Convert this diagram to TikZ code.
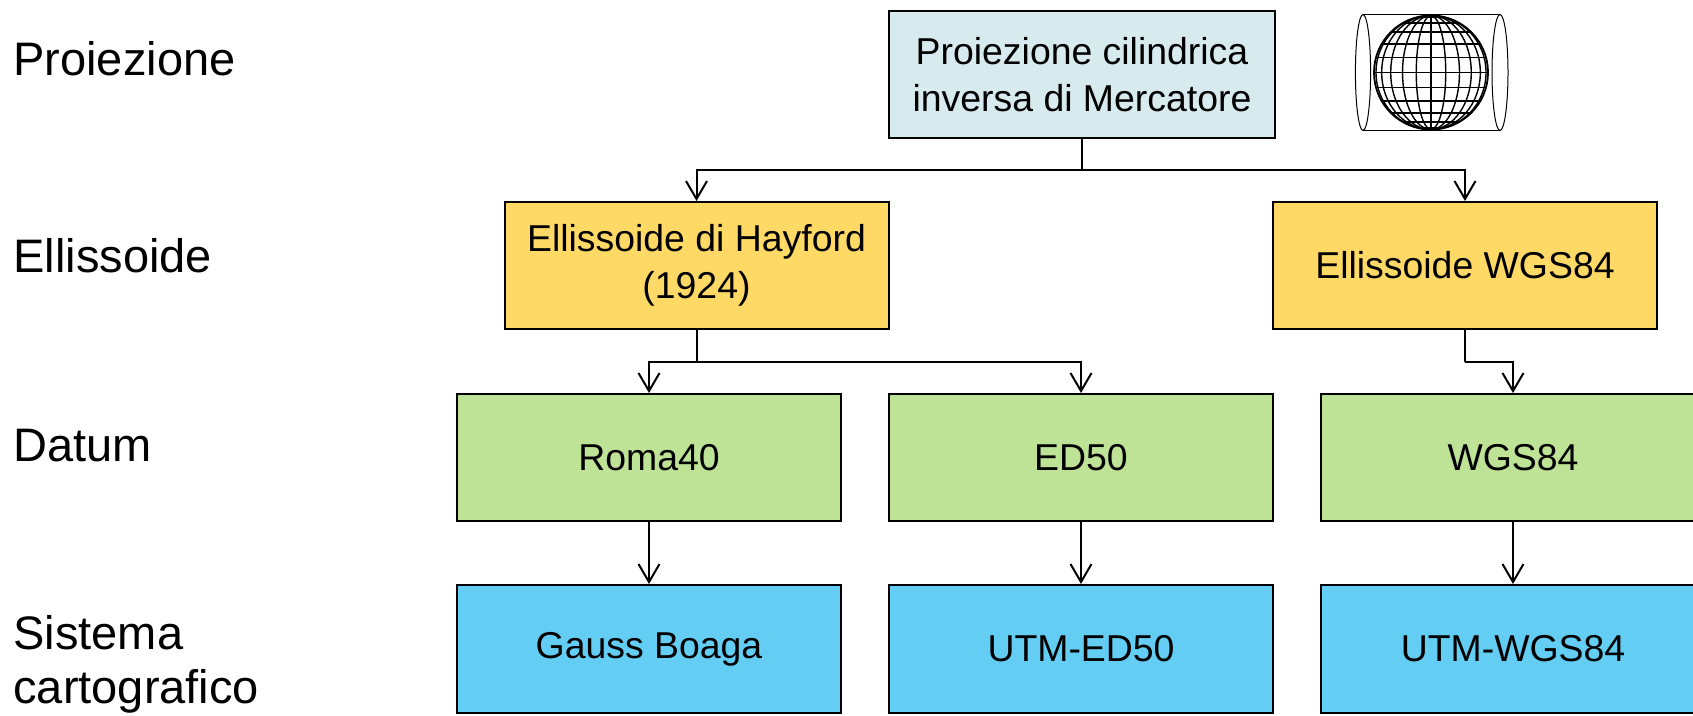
\documentclass[tikz,border=0pt]{standalone}
\usepackage{fontspec}
\setmainfont{Liberation Sans}
\usetikzlibrary{arrows.meta}
\definecolor{projfill}{HTML}{D7EAEE}
\definecolor{ellfill}{HTML}{FFD966}
\definecolor{datumfill}{HTML}{BEE396}
\definecolor{cartfill}{HTML}{63CDF4}
\begin{document}
\begin{tikzpicture}[x=0.5pt,y=-0.5pt,
  box/.style={draw=black, line width=1pt, align=center, inner sep=0pt,
    minimum width=192pt, minimum height=63.5pt,
    font=\fontsize{18.7}{23.2}\selectfont},
  lab/.style={anchor=west, align=left, inner sep=0pt,
    font=\fontsize{23.5}{27}\selectfont},
  arr/.style={line width=1pt, -{Straight Barb[length=9pt,width=10.5pt]}},
  globeline/.style={line width=0.7pt, black}]
\clip (0,0) rectangle (1693,716);

% row labels
\node[lab] (lproj) at (13,59) {Proiezione};
\node[lab] (lell) at (13,256) {Ellissoide};
\node[lab] (ldat) at (13,446) {Datum};
\node[lab] (lcart) at (13,664) {Sistema\\cartografico};

% boxes
\node[box, fill=projfill, minimum width=193pt] (proj) at (1082,74.5)
  {Proiezione cilindrica\\inversa di Mercatore};
\node[box, fill=ellfill] (hay) at (696.5,265.5) {Ellissoide di Hayford\\(1924)};
\node[box, fill=ellfill] (ellw) at (1465,265.5) {Ellissoide WGS84};

\node[box, fill=datumfill] (roma) at (649,457.5) {Roma40};
\node[box, fill=datumfill] (ed) at (1081,457.5) {ED50};
\node[box, fill=datumfill] (wgs) at (1513,457.5) {WGS84};

\node[box, fill=cartfill, minimum height=64pt] (gb) at (649,649) {Gauss Boaga};
\node[box, fill=cartfill, minimum height=64pt] (utmed) at (1081,649) {UTM-ED50};
\node[box, fill=cartfill, minimum height=64pt] (utmw) at (1513,649) {UTM-WGS84};

% connectors
\coordinate (j1) at (1082,170);
\coordinate (j2) at (696.5,362);
\coordinate (j3) at (1465,362);
\draw[line width=1pt] (proj.south) -- (j1);
\draw[arr] (j1) -| (hay.north);
\draw[arr] (j1) -| (ellw.north);
\draw[line width=1pt] (hay.south) -- (j2);
\draw[arr] (j2) -| (roma.north);
\draw[arr] (j2) -| (ed.north);
\draw[line width=1pt] (ellw.south) -- (j3);
\draw[arr] (j3) -| (wgs.north);
\draw[arr] (roma.south) -- (gb.north);
\draw[arr] (ed.south) -- (utmed.north);
\draw[arr] (wgs.south) -- (utmw.north);

% globe inside a cylinder
\begin{scope}[shift={(1431,72.5)}, x=0.5pt, y=0.5pt]
  \draw[line width=0.5pt] (-68,58) -- (69,58);
  \draw[line width=0.5pt] (-68,-58) -- (69,-58);
  \draw[line width=0.5pt] (-68,0) ellipse [x radius=3.8pt, y radius=29pt];
  \draw[line width=0.5pt] (69,0) ellipse [x radius=4pt, y radius=29pt];
  \draw[globeline, line width=0.9pt] (0,0) circle [radius=28.5pt];
  \foreach \a in {15,30,...,75}
    \draw[globeline] (0,0) ellipse [x radius={28.5pt*sin(\a)}, y radius=28.5pt];
  \draw[globeline] (0,-57) -- (0,57);
  \foreach \a in {-75,-60,...,75}
    \draw[globeline] ({-57*cos(\a)},{57*sin(\a)}) -- ({57*cos(\a)},{57*sin(\a)});
\end{scope}
\end{tikzpicture}
\end{document}
